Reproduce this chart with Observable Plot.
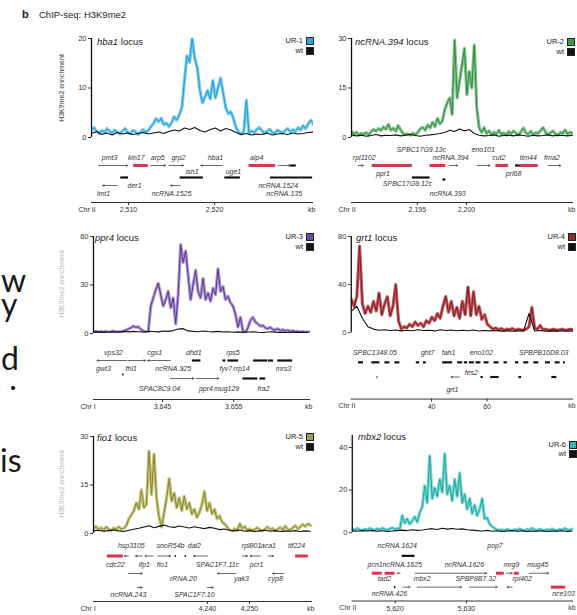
<!DOCTYPE html>
<html><head><meta charset="utf-8">
<script src="https://cdn.jsdelivr.net/npm/d3@7"></script>
<script src="https://cdn.jsdelivr.net/npm/@observablehq/plot@0.6"></script>
<style>
html,body{margin:0;padding:0;background:#fff;}
#root{position:relative;width:577px;height:615px;overflow:hidden;font-family:"Liberation Sans",Arial,Helvetica,sans-serif;color:#222;}
#root .a{position:absolute;white-space:nowrap;}
#root svg{display:block;overflow:visible;}
.locus{font-size:9.5px;line-height:12px;color:#222;}
.leg{font-size:7.5px;line-height:9px;text-align:right;width:40px;color:#222;}
.box{width:6px;height:6px;border:0.7px solid #222;}
#root .big{font-family:Lato,"Open Sans",sans-serif;font-size:32px;line-height:20px;color:#1a1a1a;white-space:pre;}
.ylab{font-size:7px;line-height:8px;transform:translate(-50%,-50%) rotate(-90deg);}
</style></head>
<body><div id="root"></div>
<script>
// ---------------- DATA ----------------
const locusNames = ["hba1", "ncRNA.394", "ppr4", "grt1", "fio1", "mbx2"];
const sampleNames = ["UR-1", "UR-2", "UR-3", "UR-4", "UR-5", "UR-6"];
const chromosomes = ["Chr II", "Chr II", "Chr I", "Chr II", "Chr I", "Chr II"];
const xDomains = [[2505.7, 2531.5], [2188.3, 2210.9], [3635.3, 3665.8], [11.1, 91.1], [4212.9, 4265], [5614, 5645]];
const xTicks = [[2510, 2520], [2195, 2200], [3645, 3655], [40, 60], [4240, 4250], [5620, 5630]];
const yMax = [20, 30, 60, 80, 30, 45.6];
const yTicks = [[0, 10, 20], [0, 15, 30], [0, 30, 60], [0, 40, 80], [0, 15, 30], [0, 20, 40]];
// bin width (kb) of the UR tracks; wt tracks use bins twice as wide
const urStep = [0.3, 0.25, 0.35, 1, 0.6, 0.35];

const ur1 = [1.5,2.0,1.2,0.8,1.4,1.0,1.8,1.3,0.9,1.5,
 1.1,0.7,1.3,1.8,1.0,0.8,1.4,1.2,0.6,1.1,
 1.6,1.0,1.4,2.2,2.8,3.8,3.2,3.9,2.6,2.9,
 2.2,3.0,4.2,3.5,4.6,6.0,11.5,16.5,15.2,20.0,
 16.0,14.0,9.5,7.0,8.2,9.5,7.8,11.5,8.0,10.0,
 12.0,9.0,6.0,4.8,5.2,3.8,2.0,1.0,0.7,1.2,
 7.5,0.9,1.3,1.0,1.6,2.0,1.4,0.8,1.2,1.7,
 1.0,0.8,1.5,1.2,0.9,1.4,1.8,1.1,1.6,1.2,
 2.0,1.5,2.4,1.8,2.8,3.5,2.6];
const wt1 = [0.8,1.2,0.6,0.9,0.5,1.0,0.7,0.9,0.6,0.8,
 1.0,0.7,0.9,1.1,0.8,1.2,1.5,1.3,1.9,1.6,
 2.0,1.4,1.1,1.6,1.9,1.3,1.8,1.5,1.0,0.6,
 0.8,0.5,0.7,0.6,0.9,0.5,0.7,0.8,0.6,0.9,
 0.7,0.8,1.0,1.1];
const ur2 = [1.8,1.0,1.6,0.8,1.3,0.9,1.5,0.7,1.8,2.4,
 1.9,2.7,2.1,3.2,2.5,4.0,2.2,2.8,1.9,3.6,
 2.3,1.2,0.9,1.1,0.7,1.3,0.9,1.5,2.6,3.1,
 2.2,3.8,2.9,4.6,3.3,5.8,4.1,5.0,8.5,10.5,
 12.0,7.0,29.5,12.0,17.0,22.0,27.0,13.0,20.0,15.0,
 28.0,9.0,3.0,1.5,3.0,1.2,2.0,0.8,1.6,1.1,
 2.2,0.9,1.4,0.7,1.8,1.1,2.0,1.3,0.8,1.7,
 2.9,1.4,1.0,1.9,0.8,1.5,1.2,2.1,3.0,1.6,
 0.9,1.4,2.0,1.1,0.7,1.5,1.2,2.3,1.0,1.6,
 1.3];
const wt2 = [0.8,0.5,0.7,0.4,0.6,0.9,0.5,0.7,0.6,0.8,
 0.5,0.7,0.9,0.6,0.4,0.7,0.8,1.0,1.2,1.5,
 2.2,1.8,2.6,2.0,2.4,1.2,0.7,0.5,0.6,0.8,
 0.4,0.6,0.7,0.5,0.8,0.6,0.4,0.7,0.5,0.6,
 0.8,0.5,0.7,0.6,0.5,0.7];
const ur3 = [1.0,1.4,0.8,1.2,0.9,1.3,0.7,1.1,1.5,0.9,
 1.2,1.0,1.6,2.0,2.8,3.5,4.5,3.8,4.2,2.5,
 1.5,0.8,1.2,17,22,27,31,24,17,21,
 26,16,22,6,24,55,44,51,36,21,
 30,39,26,22,34,21,25,20,28,24,
 40,26,29,21,23,19,17,12,4,10,
 1.5,0.6,3.5,8,10,7,6,4.5,5,3.5,
 3,3.8,2.5,2.2,3,1.8,2.4,1.5,2,1.3,
 1.7,1,1.4,0.9,1.2,0.8,1.1,0.9];
const wt3 = [0.8,1.0,0.7,0.9,1.1,0.8,1.2,1.0,1.3,1.1,
 0.9,1.4,1.2,1.0,1.5,1.3,1.8,2.8,3.0,1.6,
 1.3,1.1,1.5,1.2,1.0,1.3,0.9,1.1,0.8,1.0,
 0.7,0.9,1.1,0.8,0.6,0.9,1.0,0.7,0.8,0.6,
 0.9,0.7,0.8,0.6];
const ur4 = [28,22,30,72,24,16,22,17,26,18,
 33,15,24,30,14,22,40,10,3,5,
 4,7,5,9,6,8,5,10,8,13,
 10,16,12,22,30,17,26,14,21,12,
 26,15,38,14,34,15,22,11,15,7,
 5,3,4,2.5,3.5,2,3,2.5,3.5,2,
 3,2.5,2,3,5,21,4,3,6,2.5,
 3,2,2.5,3,2,2.5,3,2,2.5,3,
 2];
const wt4 = [18,22,12,5,3,2,2.5,1.8,2.2,1.5,
 2,1.6,2.4,1.8,2.1,1.5,2.5,1.9,2.3,1.7,
 2.0,1.6,2.2,1.4,1.8,1.5,1.9,1.3,1.6,1.2,
 1.5,1.4,16,1.4,1.8,1.2,1.5,1.3,1.6,1.2,
 1.4];
const ur5 = [1.5,2.2,1.2,1.8,1.0,2.0,1.4,0.9,1.7,1.2,
 2.1,1.3,1.6,2.4,4.5,5.8,7.0,9.5,7.5,13.5,
 8.0,9.0,25.5,12.0,24.5,11.0,5.0,2.0,6.5,11.0,
 17.0,10.0,12.5,8.0,11.0,7.0,11.5,7.5,9.5,6.0,
 7.5,5.0,6.5,9.0,13.0,7.0,9.5,6.0,7.5,4.5,
 5.5,3.5,3.0,2.0,1.2,0.8,1.5,1.0,3.0,1.5,
 2.2,1.0,1.4,0.9,1.3,1.8,1.1,0.8,1.4,2.0,
 1.2,1.6,0.9,1.3,1.9,1.1,2.3,1.4,1.0,1.8,
 2.4,1.5,2.0,2.8,2.2,3.0,2.5];
const wt5 = [0.8,1.0,0.7,0.9,1.1,0.8,0.6,1.0,1.3,1.6,
 2.0,2.4,1.8,2.2,2.6,2.1,1.9,2.3,2.0,1.7,
 2.1,1.8,1.5,1.9,1.6,1.2,1.4,1.0,0.8,1.1,
 0.7,0.9,0.6,0.8,1.0,0.7,0.9,0.6,0.8,0.7,
 0.9,0.6,0.8,0.7];
const ur6 = [1.8,1.2,2.0,1.4,1.0,1.7,1.3,2.1,1.5,1.1,
 1.9,1.4,2.2,1.6,1.2,1.8,2.4,1.5,2.0,1.6,
 8.0,4.5,6.5,4.0,5.5,7.5,5.0,9.5,12.0,22.0,
 14.0,36.0,16.0,21.0,17.0,25.0,19.0,37.0,18.0,22.0,
 15.0,25.0,17.0,28.0,14.0,18.0,11.0,16.0,9.0,13.0,
 8.0,11.0,16.0,6.5,7.0,4.0,3.0,2.0,1.5,1.0,
 1.4,0.9,1.6,1.2,0.8,1.5,1.1,1.8,1.3,0.9,
 1.6,1.2,2.2,1.4,1.0,1.7,1.2,0.9,1.5,1.1,
 1.8,1.3,1.0,1.6,1.2,2.0,1.5,1.1,1.7];
const wt6 = [0.9,0.7,1.0,0.8,1.1,0.7,0.9,0.6,0.8,1.0,
 1.2,1.0,1.4,1.1,1.3,1.6,1.9,1.5,2.1,1.7,
 2.0,1.6,1.8,1.4,1.2,1.0,0.8,1.1,0.7,0.9,
 0.6,0.8,1.0,0.7,0.9,0.6,0.8,0.7,0.9,0.6,
 0.8,0.7,0.9,0.6,0.8];

// gene annotations: [name, kb, track]  and  [from kb, to kb, track, kind(r=red gene, b=black, a=arrow)]
const genes1Labels = [["pmt3",2507.8,1],["kin17",2510.9,1],["arp5",2513.4,1],["grp2",2515.8,1],["hba1",2520.1,1],["alp4",2524.9,1],
 ["ish1",2517.4,2.75],["uge1",2522.2,2.75],["der1",2510.7,4.5],["ncRNA.1524",2527.4,4.5],
 ["lmt1",2507.1,5.5],["ncRNA.1525",2515.0,5.5],["ncRNA.135",2528.1,5.5]];
const genes1Bars = [[2506.5,2509.9,2,"a"],[2510.6,2512.3,2,"r"],[2512.6,2514.3,2,"a"],[2514.7,2516.4,2,"a"],[2520.9,2518.4,2,"a"],
 [2524.0,2527.1,2,"r"],[2527.4,2528.8,2,"a"],[2528.8,2529.5,2,"b"],
 [2516.0,2518.7,3.5,"b"],[2521.2,2523.0,3.5,"b"],[2509.1,2510.0,3.5,"b"],[2526.5,2531.4,3.5,"b"],
 [2508.7,2507.0,4.5,"a"],[2516.0,2514.9,4.5,"a"]];
const genes2Labels = [["SPBC17G9.13c",2195.4,0],["eno101",2201.7,0],
 ["rpl1102",2189.6,1],["ncRNA.394",2198.4,1],["cut2",2203.3,1],["tim44",2206.3,1],["fma2",2208.7,1],
 ["ppr1",2191.5,3],["prl68",2204.8,3],["SPBC17G9.12c",2194.0,4.25],["ncRNA.393",2198.1,5.5]];
const genes2Bars = [[2189.0,2189.5,2,"a"],[2190.4,2194.5,2,"r"],[2196.3,2197.9,2,"r"],[2198.3,2199.1,2,"a"],[2201.1,2202.4,2,"a"],
 [2203.0,2204.3,2,"r"],[2205.0,2205.5,2,"b"],[2205.5,2207.3,2,"r"],[2208.3,2209.6,2,"a"],
 [2194.5,2196.3,3.5,"b"],[2197.6,2197.9,3.75,"b"]];
const genes3Labels = [["vps32",3638.1,0],["cgs1",3643.9,0],["dhd1",3649.4,0],["rps5",3654.9,0],
 ["gwt3",3636.7,2],["fhl1",3640.6,2],["ncRNA.925",3646.5,2],["fyv7",3653.9,2],["rrp14",3656.1,2],["mrs3",3662.0,2],
 ["SPAC8C9.04",3644.6,4.5],["ppr4",3651.1,4.5],["mug129",3654.0,4.5],["fra2",3659.2,4.5]];
const genes3Bars = [[3640.0,3635.8,1,"a"],[3640.2,3642.6,1,"a"],[3646.1,3642.9,1,"a"],
 [3649.2,3650.4,1,"b"],[3653.5,3653.9,1,"b"],[3654.2,3655.7,1,"b"],[3657.8,3659.8,1,"b"],[3659.9,3660.6,1,"b"],[3661.2,3663.3,1,"b"],
 [3646.1,3649.4,3.25,"a"],[3649.7,3652.9,3.25,"a"],[3656.3,3658.4,3.25,"b"],[3658.7,3659.5,3.25,"b"],[3639.4,3639.6,2.75,"b"]];
const genes4Labels = [["SPBC1348.05",19.6,0],["ght7",38.6,0],["fah1",46.1,0],["eno102",57.9,0],["SPBPB10D8.03",80.4,0],
 ["fes2",54.3,2.5],["grt1",47.5,4.75]];
const genes4Bars = [[13.7,15.5,1.25,"b"],[18.5,21.4,1.25,"b"],[23.2,25.0,1.25,"b"],[26.8,28.6,1.25,"b"],[34.5,35.7,1.25,"b"],
 [37.1,38.1,1.25,"b"],[44.0,47.6,1.25,"b"],[49.4,51.2,1.25,"b"],[51.8,53.0,1.25,"b"],[53.6,55.4,1.25,"b"],[56.0,57.8,1.25,"b"],
 [58.9,60.7,1.25,"b"],[62.5,64.3,1.25,"b"],[66.1,67.3,1.25,"b"],[70.2,71.4,1.25,"b"],[73.2,75.0,1.25,"b"],[76.8,78.6,1.25,"b"],
 [81.0,82.8,1.25,"b"],[84.5,86.3,1.25,"b"],[87.5,88.1,1.25,"b"],
 [20.4,20.7,3.1,"b"],[50.0,47.0,3.1,"a"],[57.8,58.6,3.1,"b"],[61.3,64.3,3.1,"b"],[71.4,72.4,3.1,"b"],[83.3,85.1,3.1,"b"]];
const genes5Labels = [["hsp3105",4221.9,0],["snoR54b",4231.2,0],["dal2",4236.9,0],["rpl801",4250.5,0],["aca1",4254.5,0],["tif224",4261.2,0],
 ["cdc22",4218.1,2.75],["ifp1",4225.0,2.75],["fio1",4229.3,2.75],["SPAC1F7.11c",4242.4,2.75],["pcr1",4251.7,2.75],
 ["rRNA.20",4234.3,4.75],["yak3",4248.1,4.75],["cyp8",4256.2,4.75],
 ["ncRNA.243",4221.2,7],["SPAC1F7.10",4236.9,7]];
const genes5Bars = [[4216.2,4220.0,1.5,"r"],[4221.2,4220.2,1.5,"a"],[4224.5,4222.9,1.5,"a"],[4227.1,4225.2,1.5,"a"],[4228.1,4231.2,1.5,"a"],
 [4232.3,4232.6,1.5,"b"],[4234.7,4235.0,1.5,"b"],[4240.0,4236.7,1.5,"a"],[4248.3,4249.5,1.5,"a"],[4252.6,4250.2,1.5,"a"],
 [4254.5,4255.7,1.5,"a"],[4261.0,4264.0,1.5,"r"],
 [4221.2,4224.5,4,"a"],[4246.7,4242.4,4,"a"],[4258.1,4255.5,4,"a"],
 [4223.3,4224.5,6,"a"],[4240.0,4241.4,6,"a"]];
const genes6Labels = [["ncRNA.1624",5620.3,0],["pop7",5634.0,0],
 ["pcn1",5617.2,2.75],["ncRNA.1625",5621.0,2.75],["ncRNA.1626",5629.7,2.75],["mrg9",5636.3,2.75],["mug45",5640.0,2.75],
 ["tad2",5618.5,4.75],["mbx2",5623.8,4.75],["SPBP8B7.32",5631.3,4.75],["rpl402",5637.8,4.75],
 ["ncRNA.426",5619.2,7],["nce103",5643.6,7]];
const genes6Bars = [[5621.0,5622.8,1.5,"b"],
 [5616.8,5618.2,4,"r"],[5618.6,5620.0,4,"r"],[5620.7,5620.3,4,"a"],[5622.8,5632.8,4,"a"],[5634.2,5635.3,4,"r"],
 [5635.6,5636.4,4,"a"],[5636.7,5637.4,4,"r"],[5638.8,5641.5,4,"a"],
 [5619.9,5620.1,6,"b"],[5621.1,5622.1,6,"a"],[5623.1,5629.3,6,"a"],[5630.4,5634.3,6,"a"],[5636.4,5635.7,6,"a"],[5641.9,5643.9,6,"r"]];

const urValues = [ur1, ur2, ur3, ur4, ur5, ur6];
const wtValues = [wt1, wt2, wt3, wt4, wt5, wt6];
const geneLabels = [genes1Labels, genes2Labels, genes3Labels, genes4Labels, genes5Labels, genes6Labels];
const geneBars = [genes1Bars, genes2Bars, genes3Bars, genes4Bars, genes5Bars, genes6Bars];

// ---------------- STYLE / LAYOUT ----------------
const lightC = ["#79cdf0", "#86c48e", "#ad97d3", "#c45a60", "#c6c67f", "#78d7d1"];
const darkC  = ["#1c9bd7", "#2f8a3e", "#5a3990", "#7c1a21", "#87872f", "#1fa59f"];
const boxC   = ["#2aa8e0", "#3a9a48", "#6b4c9e", "#8f2a2f", "#9c9c4a", "#33b8b1"];
const RED = "#d8354f";
const layout = [
  {left: 91,  right: 313, top: 38,  zero: 137, row: 0, locus: [97, 42],  leg: [306, 37, 47]},
  {left: 351, right: 573, top: 38,  zero: 137, row: 0, locus: [355, 42], leg: [567, 38, 48]},
  {left: 93,  right: 310, top: 236, zero: 333, row: 1, locus: [95, 238], leg: [306, 233, 243]},
  {left: 351, right: 575, top: 236, zero: 333, row: 1, locus: [356, 238], leg: [568, 233, 243]},
  {left: 93,  right: 312, top: 436, zero: 533, row: 2, locus: [97, 438], leg: [306, 433, 443]},
  {left: 352, right: 575, top: 435, zero: 533, row: 2, locus: [358, 437], leg: [569, 441, 450]}
];
const rowsL = [
  {geneTop: 142, base: 149, unit: 8, line: 202},
  {geneTop: 344, base: 352, unit: 8, line: 399},
  {geneTop: 539, base: 545, unit: 7, line: 601}
];
const ML = 30, MR = 4;

const root = document.getElementById("root");
function add(html, cls, left, top, extra) {
  const d = document.createElement("div");
  d.className = "a " + (cls || "");
  d.style.left = left + "px"; d.style.top = top + "px";
  if (extra) Object.assign(d.style, extra);
  d.innerHTML = html; root.appendChild(d); return d;
}
function place(node, left, top) {
  const d = document.createElement("div");
  d.className = "a";
  d.style.left = left + "px"; d.style.top = top + "px";
  d.appendChild(node); root.appendChild(d);
}

// title
add('<b>b</b>', "", 22, 8, {fontSize: "11px"});
add('ChIP-seq: H3K9me2', "", 39, 9, {fontSize: "9.5px", color: "#222"});

// y labels
add("H3K9me2 enrichment", "ylab", 62, 88, {color: "#333"});
add("H3K9me2 enrichment", "ylab", 62, 284, {color: "#b8b8b8"});
add("H3K9me2 enrichment", "ylab", 62, 484, {color: "#b8b8b8"});

// slide text bleeding in from the left (one text block per group of lines)
add("w\ny", "big", 1, 268, {lineHeight: "24px"});
add("d\n .", "big", 1, 348, {lineHeight: "20px"});
add("is", "big", 0, 450);

for (let k = 0; k < 6; k++) {
  const L = layout[k];
  const dom = xDomains[k];
  const ur = urValues[k].map((v, i) => ({x: dom[0] + i * urStep[k], v}));
  const wt = wtValues[k].map((v, i) => ({x: dom[0] + i * urStep[k] * 2, v}));
  const w = L.right - L.left + ML + MR;

  const sig = Plot.plot({
    width: w, height: L.zero - L.top + 4,
    marginLeft: ML, marginRight: MR, marginTop: 2, marginBottom: 2,
    style: {background: "transparent", fontSize: "7.5px", color: "#333", overflow: "visible", fontFamily: "Liberation Sans, Arial, sans-serif"},
    x: {domain: dom, axis: null},
    y: {domain: [0, yMax[k]], ticks: yTicks[k], tickSize: 3, tickPadding: 2, label: null},
    marks: [
      Plot.lineY(ur, {x: "x", y: "v", stroke: lightC[k], strokeWidth: 3.2, clip: true}),
      Plot.lineY(ur, {x: "x", y: "v", stroke: darkC[k], strokeWidth: 1.0, clip: true}),
      Plot.lineY(wt, {x: "x", y: "v", stroke: "#111", strokeWidth: 1.1, clip: true}),
      Plot.ruleX([dom[0]], {y1: 0, y2: yMax[k], stroke: "#111", strokeWidth: 1.3})
    ]
  });
  place(sig, L.left - ML, L.top - 2);

  const R = rowsL[L.row];
  const gh = R.line - R.geneTop + 14;
  const y0 = R.base - R.geneTop;
  const lineT = (R.line - R.base) / R.unit;
  const labs = geneLabels[k].map(([name, x, t]) => ({name, x, t}));
  const bars = geneBars[k].map(([x1, x2, t, kind]) => ({x1, x2, t, kind}));
  const gp = Plot.plot({
    width: w, height: gh,
    marginLeft: ML, marginRight: MR, marginTop: 0, marginBottom: 14,
    style: {background: "transparent", fontSize: "7px", color: "#333", overflow: "visible", fontFamily: "Liberation Sans, Arial, sans-serif"},
    x: {domain: dom, ticks: xTicks[k], tickFormat: d3.format(","), tickSize: 3, tickPadding: 2, label: null},
    y: {domain: [0, 10], range: [y0, y0 + 10 * R.unit], axis: null},
    marks: [
      Plot.ruleY([lineT], {stroke: "#333", strokeWidth: 1}),
      Plot.ruleY(bars.filter(d => d.kind === "r"), {y: "t", x1: "x1", x2: "x2", stroke: RED, strokeWidth: 3}),
      Plot.ruleY(bars.filter(d => d.kind === "b"), {y: "t", x1: "x1", x2: "x2", stroke: "#111", strokeWidth: 2.2}),
      Plot.arrow(bars.filter(d => d.kind === "a"), {x1: "x1", x2: "x2", y1: "t", y2: "t", stroke: "#444", strokeWidth: 0.8, headLength: 3}),
      Plot.text(labs, {x: "x", y: "t", text: "name", fontStyle: "italic", fontSize: 7, fill: "#333"}),
      Plot.text([chromosomes[k]], {frameAnchor: "bottom-left", text: d => d, dx: -13, dy: 9, textAnchor: "start", fontSize: 7}),
      Plot.text(["kb"], {frameAnchor: "bottom-right", text: d => d, dx: 2, dy: 9, textAnchor: "end", fontSize: 7})
    ]
  });
  place(gp, L.left - ML, R.geneTop);

  // locus label
  add(`<i>${locusNames[k]}</i> locus`, "locus", L.locus[0], L.locus[1] - 6);
  // legend
  const [bx, uy, wy] = L.leg;
  add(sampleNames[k], "leg", bx - 43, uy - 1);
  add("", "box", bx, uy, {background: boxC[k]});
  add("wt", "leg", bx - 43, wy - 1);
  add("", "box", bx, wy, {background: "#111"});
}
</script></body></html>
